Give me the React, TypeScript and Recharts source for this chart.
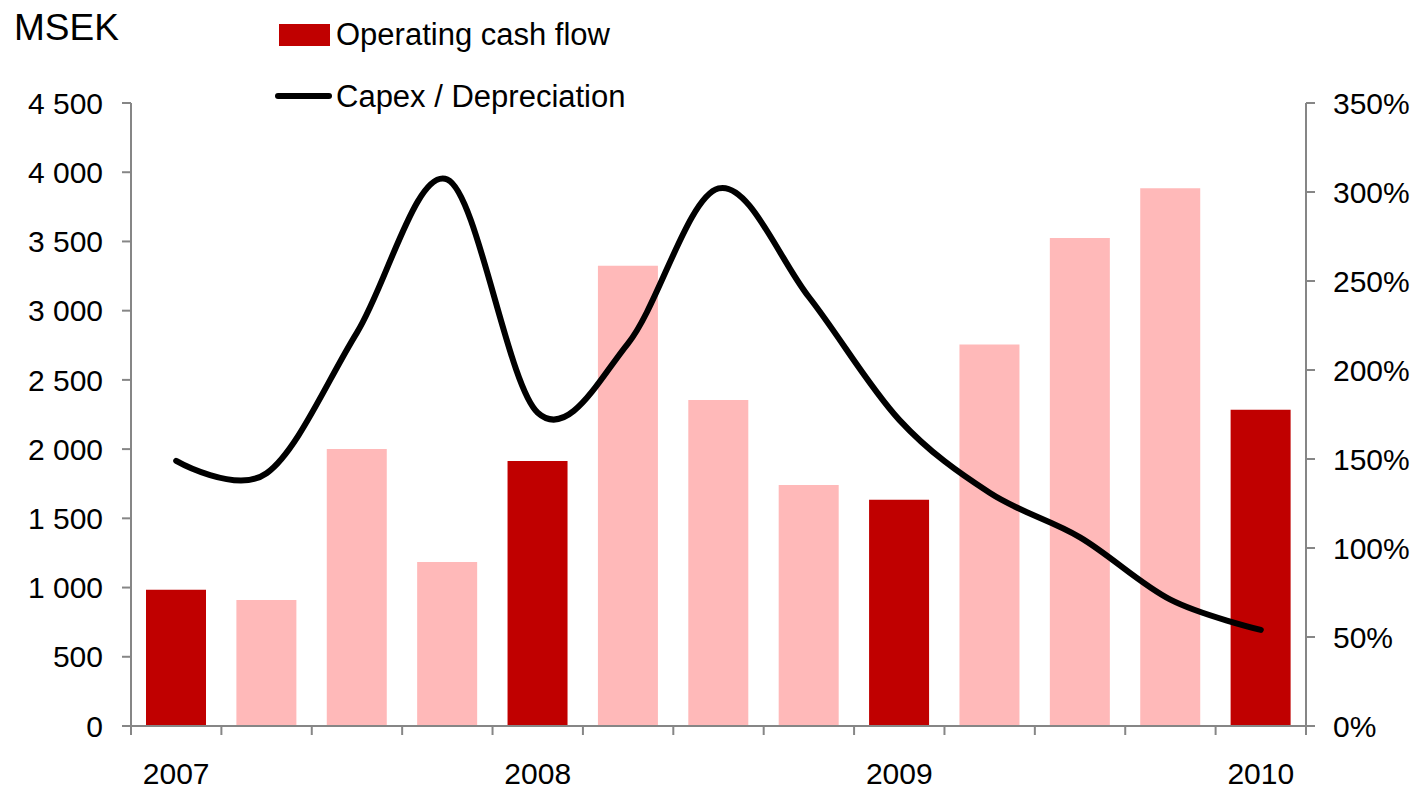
// Operating cash flow (bars, left axis) vs Capex / Depreciation (line, right axis)
import { ComposedChart, Bar, Line, XAxis, YAxis, Cell } from 'recharts'

const periods = ['2007', '', '', '', '2008', '', '', '', '2009', '', '', '', '2010']
const cashFlow = [985, 910, 2000, 1185, 1915, 3325, 2355, 1740, 1635, 2755, 3525, 3885, 2285]
const capexRatio = [149, 142, 221, 307, 176, 215, 302, 241, 172, 131, 106, 71, 54]
const yearEnd = [true, false, false, false, true, false, false, false, true, false, false, false, true]
const leftTicks = [0, 500, 1000, 1500, 2000, 2500, 3000, 3500, 4000, 4500]
const rightTicks = [0, 50, 100, 150, 200, 250, 300, 350]

const data = periods.map((p, i) => ({
  period: p,
  key: i,
  cash: cashFlow[i],
  ratio: capexRatio[i],
}))

const W = 1422
const H = 792
const LEFT_W = 131
const RIGHT_W = 116
const TOP = 103
const X_H = 66
const BAND = (W - LEFT_W - RIGHT_W) / periods.length
const FONT = '"Liberation Sans", Arial, sans-serif'
const AXIS = '#868686'
const DARK = '#C00000'
const LIGHT = '#FFB9B9'

// Excel style smoothing ~ uniform Catmull-Rom (cardinal, tension 0)
function smoothCurve(context: any) {
  const k = 1 / 6
  let x0 = NaN, x1 = NaN, x2 = NaN, y0 = NaN, y1 = NaN, y2 = NaN
  let pt = 0
  const bez = (x: number, y: number) => {
    context.bezierCurveTo(
      x1 + k * (x2 - x0), y1 + k * (y2 - y0),
      x2 + k * (x1 - x), y2 + k * (y1 - y),
      x2, y2,
    )
  }
  return {
    areaStart() {},
    areaEnd() {},
    lineStart() {
      x0 = x1 = x2 = y0 = y1 = y2 = NaN
      pt = 0
    },
    lineEnd() {
      if (pt === 2) context.lineTo(x2, y2)
      else if (pt === 3) bez(x1, y1)
    },
    point(x: number, y: number) {
      x = +x
      y = +y
      if (pt === 0) {
        pt = 1
        context.moveTo(x, y)
      } else if (pt === 1) {
        pt = 2
        x1 = x
        y1 = y
      } else {
        pt = 3
        bez(x, y)
      }
      x0 = x1; x1 = x2; x2 = x
      y0 = y1; y1 = y2; y2 = y
    },
  }
}

const fmtThousands = (v: number) => String(v).replace(/\B(?=(\d{3})+(?!\d))/g, ' ')

function XTick(props: any) {
  const { x, y, payload, index } = props
  const half = BAND / 2
  const label = periods[payload.value] ?? ''
  return (
    <g>
      <line x1={x - half} x2={x - half} y1={y} y2={y + 9} stroke={AXIS} strokeWidth={2} />
      {index === periods.length - 1 && (
        <line x1={x + half} x2={x + half} y1={y} y2={y + 9} stroke={AXIS} strokeWidth={2} />
      )}
      {label && (
        <text x={x} y={y + 58} textAnchor="middle" fontSize={30} fontFamily={FONT} fill="#000">
          {label}
        </text>
      )}
    </g>
  )
}

export default function App() {
  return (
    <div style={{ position: 'absolute', left: 0, top: 0, width: W, height: H, background: '#fff', fontFamily: FONT }}>
      <ComposedChart
        width={W}
        height={H}
        data={data}
        margin={{ top: TOP, right: 0, bottom: 0, left: 0 }}
      >
        <XAxis
          dataKey="key"
          xAxisId="x"
          height={X_H}
          interval={0}
          tickLine={false}
          tickSize={0}
          tickMargin={0}
          axisLine={{ stroke: AXIS, strokeWidth: 2 }}
          tick={<XTick />}
        />
        <YAxis
          yAxisId="left"
          orientation="left"
          width={LEFT_W}
          domain={[0, 4500]}
          ticks={leftTicks}
          tickFormatter={fmtThousands}
          tickSize={9}
          tickMargin={19}
          axisLine={{ stroke: AXIS, strokeWidth: 2 }}
          tickLine={{ stroke: AXIS, strokeWidth: 2 }}
          tick={{ fontSize: 30, fill: '#000', fontFamily: FONT }}
        />
        <YAxis
          yAxisId="right"
          orientation="right"
          width={RIGHT_W}
          domain={[0, 350]}
          ticks={rightTicks}
          tickFormatter={(v: number) => `${v}%`}
          tickSize={9}
          tickMargin={18}
          axisLine={{ stroke: AXIS, strokeWidth: 2 }}
          tickLine={{ stroke: AXIS, strokeWidth: 2 }}
          tick={{ fontSize: 30, fill: '#000', fontFamily: FONT }}
        />
        <Bar xAxisId="x" yAxisId="left" dataKey="cash" name="Operating cash flow" fill={DARK} barSize={60} isAnimationActive={false}>
          {data.map((d, i) => (
            <Cell key={d.key} fill={yearEnd[i] ? DARK : LIGHT} />
          ))}
        </Bar>
        <Line
          xAxisId="x"
          yAxisId="right"
          dataKey="ratio"
          name="Capex / Depreciation"
          type={smoothCurve as any}
          stroke="#000"
          strokeWidth={6}
          strokeLinecap="round"
          dot={false}
          activeDot={false}
          isAnimationActive={false}
        />
      </ComposedChart>

      <div style={{ position: 'absolute', left: 14, top: 7, fontSize: 37, color: '#000', lineHeight: '42px' }}>MSEK</div>

      <div style={{ position: 'absolute', left: 279, top: 24, width: 51, height: 22, background: DARK }} />
      <div style={{ position: 'absolute', left: 336, top: 16, fontSize: 31, lineHeight: '38px', color: '#000', whiteSpace: 'nowrap' }}>
        Operating cash flow
      </div>
      <div style={{ position: 'absolute', left: 275, top: 93, width: 57, height: 6, borderRadius: 3, background: '#000' }} />
      <div style={{ position: 'absolute', left: 336, top: 78, fontSize: 31, lineHeight: '38px', color: '#000', whiteSpace: 'nowrap' }}>
        Capex / Depreciation
      </div>
    </div>
  )
}
